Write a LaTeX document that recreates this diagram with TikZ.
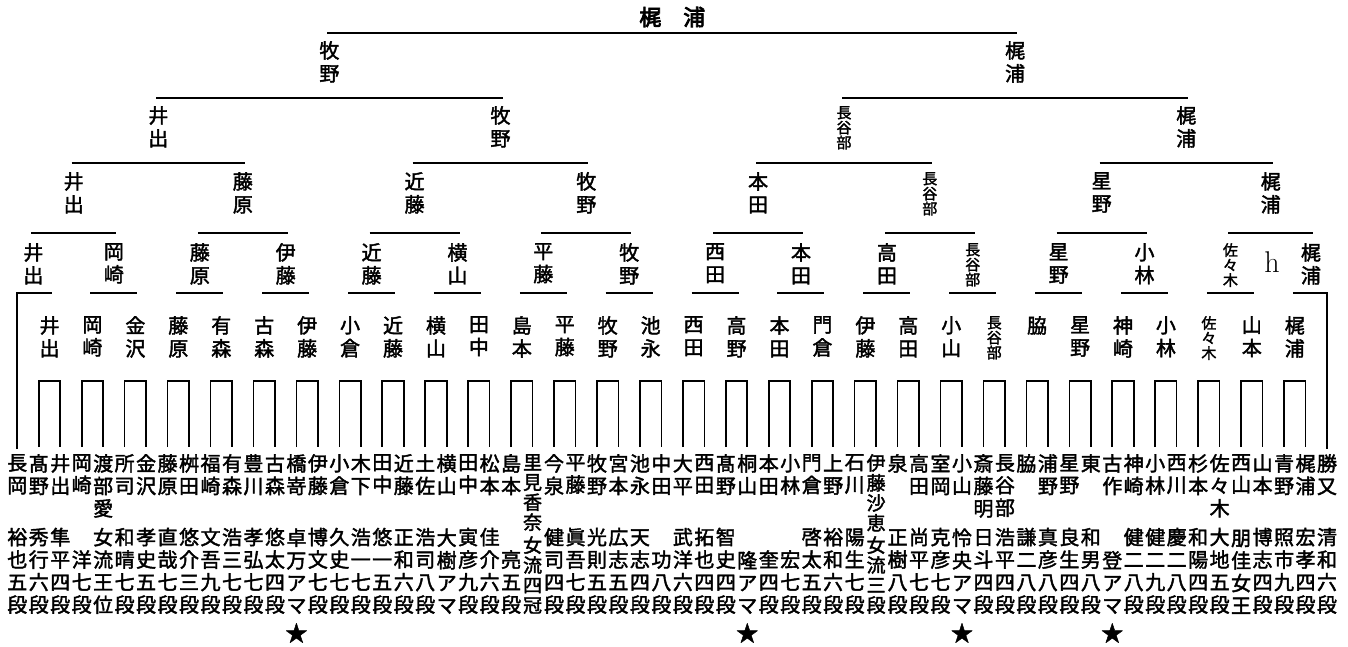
\documentclass[tikz,border=0pt]{standalone}
\usepackage{fontspec}
\newfontfamily\jp[FakeBold=2]{Noto Sans CJK JP}
\newfontfamily\jpb[FakeBold=3.5]{Noto Sans CJK JP}
% vertical text: one character per line
\makeatletter
\def\tate#1{\edef\tate@tmp{#1}\expandafter\tate@first\tate@tmp\tate@end}
\def\tate@first#1{#1\tate@rest}
\def\tate@rest#1{\ifx#1\tate@end\else\\#1\expandafter\tate@rest\fi}
\makeatother
\begin{document}
\begin{tikzpicture}[x=1pt,y=-1pt]
        \tikzstyle{player}=[inner sep=0pt,align=center,font=\jp\fontsize{20}{22.5}\selectfont]
        \tikzstyle{squeeze}=[player,font=\jp\fontsize{19}{20}\selectfont]
        \tikzstyle{winner}=[inner sep=0pt,align=center,anchor=north,font=\jp\fontsize{20}{23}\selectfont]
        \tikzstyle{winsmall}=[winner,font=\jp\fontsize{15}{15}\selectfont]
        \tikzstyle{bracket}=[draw,line width=1.8pt,shorten <=-2pt,shorten >=-2pt]
        \tikzstyle{firstbox}=[draw,line width=1.6pt]
        \tikzstyle{starsym}=[inner sep=0pt,font=\jp\fontsize{22}{22}\selectfont]
        \useasboundingbox (0,0) rectangle (1348,646);

        \coordinate (y0) at (0,33);
        \coordinate (y1) at (0,98);
        \coordinate (y2) at (0,163);
        \coordinate (y3) at (0,233);
        \coordinate (y4) at (0,293);

        % players
        \foreach \i/\sn/\gn in {0/長岡/裕也五段,1/髙野/秀行六段,2/井出/隼平四段,3/岡崎/洋七段,
          4/渡部愛/女流王位,5/所司/和晴七段,6/金沢/孝史五段,7/藤原/直哉七段,8/桝田/悠介三段,
          9/福崎/文吾九段,10/有森/浩三七段,11/豊川/孝弘七段,12/古森/悠太四段,13/橋嵜/卓万アマ,
          14/伊藤/博文七段,15/小倉/久史七段,16/木下/浩一七段,17/田中/悠一五段,18/近藤/正和六段,
          19/土佐/浩司八段,20/横山/大樹アマ,21/田中/寅彦九段,22/松本/佳介六段,23/島本/亮五段,
          25/今泉/健司四段,26/平藤/眞吾七段,27/牧野/光則五段,28/宮本/広志五段,29/池永/天志四段,
          30/中田/功八段,31/大平/武洋六段,32/西田/拓也四段,33/髙野/智史四段,34/桐山/隆アマ,
          35/本田/奎四段,36/小林/宏七段,37/門倉/啓太五段,38/上野/裕和六段,39/石川/陽生七段,
          41/泉/正樹八段,42/高田/尚平七段,43/室岡/克彦七段,44/小山/怜央アマ,45/斎藤明/日斗四段,
          46/長谷部/浩平四段,47/脇/謙二八段,48/浦野/真彦八段,49/星野/良生四段,50/東/和男八段,
          51/古作/登アマ,52/神崎/健二八段,53/小林/健二九段,54/西川/慶二八段,55/杉本/和陽四段,
          56/佐々木/大地五段,57/西山/朋佳女王,58/山本/博志四段,59/青野/照市九段,60/梶浦/宏孝四段,
          61/勝又/清和六段}{
          \node [player,anchor=north] (s\i) at ({17.3+21.47*\i},454) {\tate{\sn}};
          \node [player,anchor=south] (g\i) at ({17.3+21.47*\i},614) {\tate{\gn}};
        }
        \node [squeeze,anchor=north] (s24) at ({17.3+21.47*24},454) {\tate{里見香奈}};
        \node [squeeze,anchor=south] (g24) at ({17.3+21.47*24},614) {\tate{女流四冠}};
        \node [squeeze,anchor=north] (s40) at ({17.3+21.47*40},454) {\tate{伊藤沙恵}};
        \node [squeeze,anchor=south] (g40) at ({17.3+21.47*40},614) {\tate{女流三段}};
        \foreach \i in {0,...,61} \coordinate (b\i) at ({17.3+21.47*\i},447);
        \foreach \i in {13,34,44,51} \node [starsym] (star\i) at ([yshift=-19pt]g\i.south) {★};

        % first round
        \foreach \a in {1,3,...,59}{
          \pgfmathtruncatemacro{\b}{\a+1}
          \draw [firstbox] (b\a) -- ++(0,-66) -| (b\b);
        }

        % winners
        \foreach \k/\nm in {1/井出,2/岡崎,3/金沢,4/藤原,5/有森,6/古森,7/伊藤,8/小倉,9/近藤,10/横山,
          11/田中,12/島本,13/平藤,14/牧野,15/池永,16/西田,17/高野,18/本田,19/門倉,20/伊藤,
          21/高田,22/小山,24/脇,25/星野,26/神崎,27/小林,29/山本,30/梶浦}
          \node [winner] (r5-\k) at ({6.565+42.94*\k},316) {\tate{\nm}};
        \node [winsmall] (r5-23) at (994.2,316) {\tate{長谷部}};
        \node [winsmall] (r5-28) at (1208.9,316) {\tate{佐々木}};

        \foreach \k/\x/\nm in {1/33.4/井出,2/113.9/岡崎,3/199.8/藤原,4/285.7/伊藤,5/371.6/近藤,
          6/457.5/横山,7/543.3/平藤,8/629.2/牧野,9/715.1/西田,10/801.0/本田,11/886.9/高田,
          13/1058.6/星野,14/1144.5/小林,16/1310.9/梶浦}
          \node [winner] (r4-\k) at (\x,243) {\tate{\nm}};
        \node [winsmall] (r4-12) at (972.7,243) {\tate{長谷部}};
        \node [winsmall] (r4-15) at (1230.4,243) {\tate{佐々木}};
        \node [font=\fontsize{30}{30}\selectfont,inner sep=0pt] (hh) at (1272,262) {h};

        \foreach \k/\x/\nm in {1/73.7/井出,2/242.8/藤原,3/414.6/近藤,4/586.3/牧野,5/758.1/本田,
          7/1101.6/星野,8/1270.7/梶浦}
          \node [winner] (r3-\k) at (\x,172) {\tate{\nm}};
        \node [winsmall] (r3-6) at (929.8,172) {\tate{長谷部}};

        \node [winner] (r2-1) at (158.3,106) {\tate{井出}};
        \node [winner] (r2-2) at (500.5,106) {\tate{牧野}};
        \node [winsmall] (r2-3) at (844.0,106) {\tate{長谷部}};
        \node [winner] (r2-4) at (1186.2,106) {\tate{梶浦}};

        \node [winner] (r1-1) at (329.4,41) {\tate{牧野}};
        \node [winner] (r1-2) at (1015.1,41) {\tate{梶浦}};
        \node [font=\jpb\fontsize{22}{22}\selectfont,inner sep=0pt] (title) at (672.3,17) {梶　浦};

        % bracket lines
        \draw [bracket] (b0) |- (r5-1 |- y4);
        \draw [bracket] (r5-30 |- y4) -| (b61);
        \foreach \a in {2,4,...,28}{
          \pgfmathtruncatemacro{\b}{\a+1}
          \draw [bracket] (r5-\a |- y4) -- (r5-\b |- y4);
        }
        \foreach \a in {1,3,...,15}{
          \pgfmathtruncatemacro{\b}{\a+1}
          \draw [bracket] (r4-\a |- y3) -- (r4-\b |- y3);
        }
        \foreach \a in {1,3,5,7}{
          \pgfmathtruncatemacro{\b}{\a+1}
          \draw [bracket] (r3-\a |- y2) -- (r3-\b |- y2);
        }
        \draw [bracket] (r2-1 |- y1) -- (r2-2 |- y1);
        \draw [bracket] (r2-3 |- y1) -- (r2-4 |- y1);
        \draw [bracket] (r1-1 |- y0) -- (r1-2 |- y0);
\end{tikzpicture}
\end{document}
